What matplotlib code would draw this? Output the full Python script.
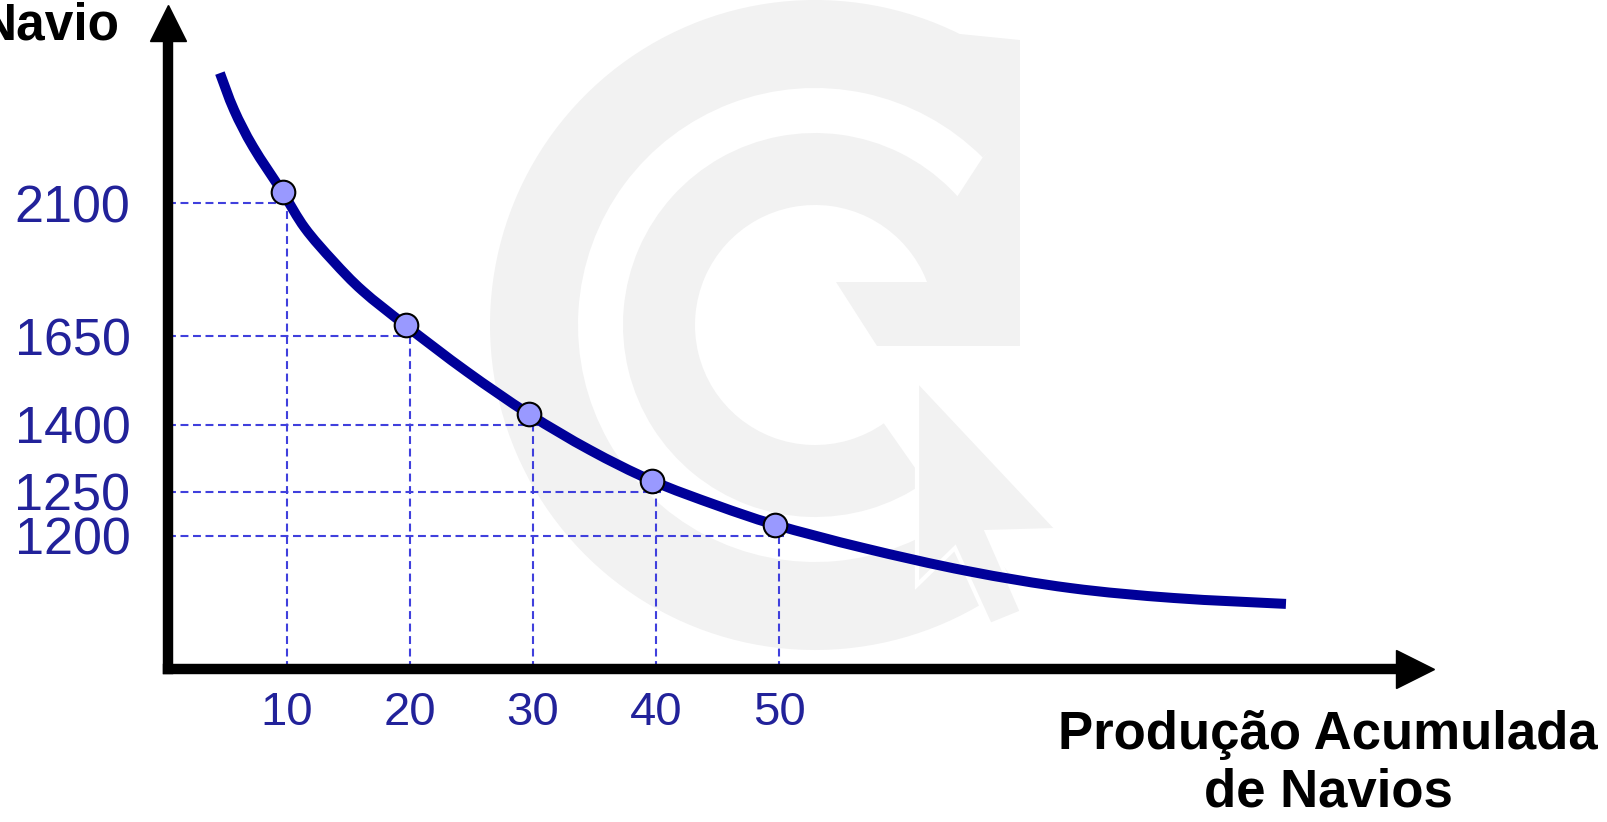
import numpy as np
import matplotlib.pyplot as plt
from matplotlib.patches import Wedge, Polygon, Rectangle, PathPatch
from matplotlib.path import Path
from matplotlib.transforms import ScaledTranslation, IdentityTransform

plt.rcParams['font.family'] = ['Liberation Sans', 'DejaVu Sans']

# dados
producao = [10, 20, 30, 40, 50]
custo = [2100, 1650, 1400, 1250, 1200]
x_labels = ['10', '20', '30', '40', '50']
y_labels = ['2100', '1650', '1400', '1250', '1200']

curva_x = [4.9, 6.05, 7.6, 10, 11.8, 14.1, 16.5, 20, 24.95, 30, 34.96, 40, 45.26, 50,
           57.2, 65.6, 74.0, 82.4, 91.5]
curva_custo = [2504, 2379, 2254, 2100, 1980, 1868, 1767, 1650, 1520, 1400, 1319, 1250,
               1222, 1200, 1173.5, 1147.4, 1128, 1116.7, 1110]

# escala do eixo y (esquemática, não proporcional): altura em px de cada valor
ref_val = np.array([1200, 1250, 1400, 1650, 2100], float)
ref_alt = np.array([133.3, 177.3, 244, 332.5, 465.5])
s_lo = (ref_alt[1] - ref_alt[0]) / (ref_val[1] - ref_val[0])
s_hi = (ref_alt[-1] - ref_alt[-2]) / (ref_val[-1] - ref_val[-2])


def fwd(v):
    v = np.asarray(v, float)
    h = np.interp(v, ref_val, ref_alt)
    h = np.where(v < ref_val[0], ref_alt[0] + (v - ref_val[0]) * s_lo, h)
    h = np.where(v > ref_val[-1], ref_alt[-1] + (v - ref_val[-1]) * s_hi, h)
    return h


def inv(h):
    h = np.asarray(h, float)
    v = np.interp(h, ref_alt, ref_val)
    v = np.where(h < ref_alt[0], ref_val[0] + (h - ref_alt[0]) / s_lo, v)
    v = np.where(h > ref_alt[-1], ref_val[-1] + (h - ref_alt[-1]) / s_hi, v)
    return v


def curva_suave(pts):
    # traço suave (Catmull-Rom -> Bezier) passando por todos os pontos lidos
    verts, codes = [pts[0]], [Path.MOVETO]
    n = len(pts)
    for i in range(n - 1):
        p0 = pts[max(i - 1, 0)]
        p1, p2 = pts[i], pts[i + 1]
        p3 = pts[min(i + 2, n - 1)]
        verts += [p1 + (p2 - p0) / 6, p2 - (p3 - p1) / 6, p2]
        codes += [Path.CURVE4] * 3
    return Path(verts, codes)


W, H = 1608, 822
fig = plt.figure(figsize=(W / 100, H / 100), dpi=100)

# marca d'água (logo) ao fundo, em px
bg = fig.add_axes([0, 0, 1, 1], zorder=0)
bg.set_xlim(0, W)
bg.set_ylim(0, H)
bg.axis('off')
cinza = '#f2f2f2'
def px(pts):
    return [(x, H - y) for x, y in pts]
c = (815, H - 325)
corte = Rectangle((0, 0), 1020, H, transform=bg.transData, visible=False)
anel = Wedge(c, 325, 45, 308, width=88, color=cinza, lw=0)
bg.add_patch(anel)
anel.set_clip_path(corte)
bg.add_patch(Wedge(c, 192, 8, 305, width=72, color=cinza, lw=0))
bg.add_patch(Polygon(px([(960, 34), (1020, 40), (1020, 130), (985, 125)]), color=cinza, lw=0))
bg.add_patch(Polygon(px([(1020, 118), (1020, 346), (877, 346), (836, 282), (935, 282),
                         (945, 235), (955, 200), (983, 157)]), color=cinza, lw=0))
bg.add_patch(Polygon(px([(917, 380), (1058, 530), (987, 532), (1022, 612), (990, 625),
                         (955, 548), (917, 585)]), facecolor=cinza, edgecolor='white', lw=3))

# eixos principais
x0, x1 = 168, 1415
y_eixo, y_topo = 669, 23
ax = fig.add_axes([x0 / W, (H - y_eixo) / H, (x1 - x0) / W, (y_eixo - y_topo) / H], zorder=1)
ax.patch.set_alpha(0)
ax.set_yscale('function', functions=(fwd, inv))
ax.set_xlim((x0 - 163.6) / 12.31, (x1 - 163.6) / 12.31)
ax.set_ylim(float(inv(0)), float(inv(y_eixo - y_topo)))

for s in ['top', 'right']:
    ax.spines[s].set_visible(False)
for s in ['left', 'bottom']:
    ax.spines[s].set_linewidth(7.5)
    ax.spines[s].set_color('black')
    ax.spines[s].set_capstyle('projecting')

ax.plot(1, 0, marker='>', ms=27, color='black', transform=ax.transAxes, clip_on=False)
ax.plot(0, 1, marker='^', ms=26, color='black', transform=ax.transAxes, clip_on=False)

azul_trac = '#4040dd'
xmin = ax.get_xlim()[0]
ymin = ax.get_ylim()[0]
for xv, yv in zip(producao, custo):
    ax.plot([xmin, xv + 0.4], [yv, yv], color=azul_trac, lw=1.5, dashes=(3.8, 2.2), zorder=2)
    ax.plot([xv, xv], [ymin, yv], color=azul_trac, lw=1.5, dashes=(3.8, 2.2), zorder=2)

# a curva e os pontos estão desenhados um pouco acima/à esquerda da grade no original
desvio = ax.transData + ScaledTranslation(-0.04, 0.11, fig.dpi_scale_trans)
pts = desvio.transform(np.column_stack([curva_x, curva_custo]))
ax.add_patch(PathPatch(curva_suave(pts), fill=False, edgecolor='#000099', lw=7.2,
                       capstyle='butt', joinstyle='round', transform=IdentityTransform(),
                       zorder=3))
ax.plot(producao, custo, 'o', ms=17, mfc='#9999ff', mec='black', mew=1.5, zorder=4,
        transform=desvio)

ax.set_xticks(producao)
ax.set_xticklabels(x_labels)
ax.set_yticks(custo)
ax.set_yticklabels(y_labels)
ax.minorticks_off()
ax.tick_params(length=0, labelcolor='#22229a')
ax.tick_params(axis='y', pad=27, labelsize=37.5)
ax.tick_params(axis='x', pad=16, labelsize=34)

fig.text(1328 / W, (H - 764) / H, 'Produção Acumulada\nde Navios', ha='center', va='center',
         fontsize=38, fontweight='bold', linespacing=1.2)
fig.text(120 / W, (H - 26) / H, 'Navio', ha='right', va='center', fontsize=37, fontweight='bold')

fig.savefig('out.png', dpi=100)
